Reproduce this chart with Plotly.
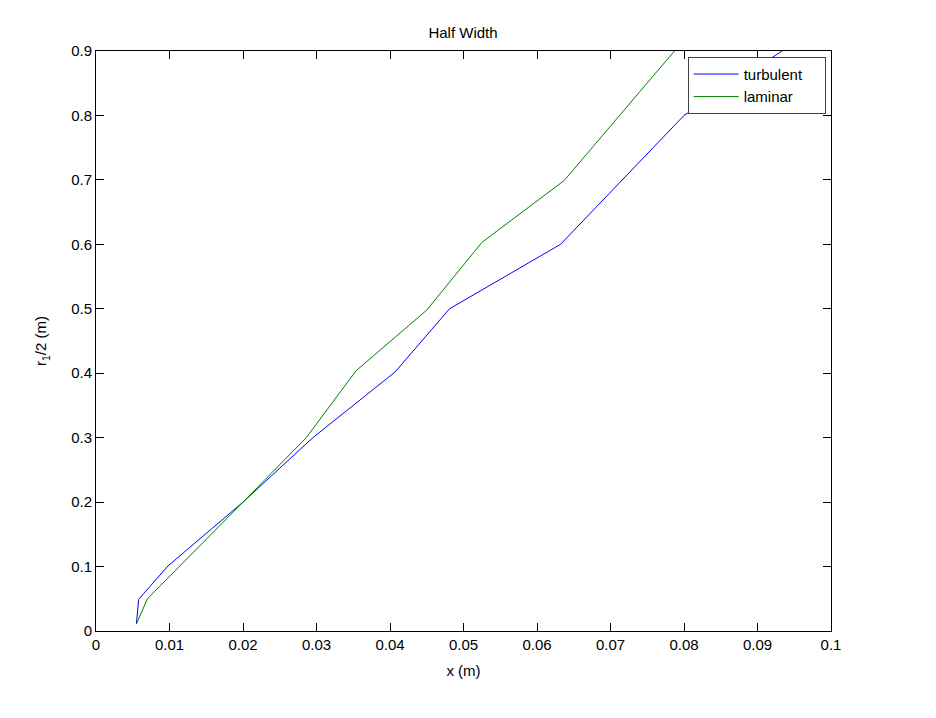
import plotly.graph_objects as go

# half width data
x_turbulent = [0.0055, 0.0058, 0.0098, 0.0200, 0.0295, 0.0407, 0.0481, 0.0632, 0.0800, 0.0935, 0.1000]
r_turbulent = [0.011, 0.049, 0.101, 0.200, 0.300, 0.402, 0.500, 0.600, 0.800, 0.900, 0.950]

x_laminar = [0.0055, 0.0070, 0.0200, 0.0286, 0.0354, 0.0450, 0.0525, 0.0637, 0.0787, 0.0850]
r_laminar = [0.011, 0.050, 0.200, 0.300, 0.404, 0.498, 0.603, 0.699, 0.900, 1.000]

x_ticks = [0, 0.01, 0.02, 0.03, 0.04, 0.05, 0.06, 0.07, 0.08, 0.09, 0.1]
y_ticks = [0, 0.1, 0.2, 0.3, 0.4, 0.5, 0.6, 0.7, 0.8, 0.9]

font = dict(family="Liberation Sans, Arial, sans-serif", size=15, color="black")

# pad legend labels a bit so the box is as wide as the matlab one
pad = "\u00a0" * 4

fig = go.Figure()
fig.add_trace(go.Scatter(x=x_turbulent, y=r_turbulent, mode="lines", name="turbulent" + pad,
                         line=dict(color="#0000ff", width=1)))
fig.add_trace(go.Scatter(x=x_laminar, y=r_laminar, mode="lines", name="laminar",
                         line=dict(color="#008000", width=1)))

axis_style = dict(showline=True, linecolor="black", linewidth=1, mirror="ticks",
                  ticks="inside", ticklen=8, tickcolor="black", showgrid=False,
                  zeroline=False, tickfont=font)

fig.update_xaxes(range=[0, 0.1], tickvals=x_ticks, ticktext=[f"{v:g}" for v in x_ticks],
                 title=dict(text="x (m)", font=font, standoff=13), **axis_style)
fig.update_yaxes(range=[0, 0.9], tickvals=y_ticks, ticktext=[f"{v:g}" for v in y_ticks],
                 title=dict(text="r<sub>1</sub>/2 (m)", font=font, standoff=20), **axis_style)

fig.update_layout(
    width=936, height=718,
    margin=dict(l=88, r=113, t=43, b=95),
    paper_bgcolor="white", plot_bgcolor="white",
    font=font,
    title=dict(text="Half Width", x=455 / 936, xanchor="center",
               y=1 - 25 / 718, yanchor="middle", font=font),
    legend=dict(x=0.805, y=0.99, xanchor="left", yanchor="top",
                bgcolor="white", bordercolor="#404040", borderwidth=1,
                font=font, tracegroupgap=0, itemwidth=45),
    showlegend=True,
)

fig.write_html("out.html")
